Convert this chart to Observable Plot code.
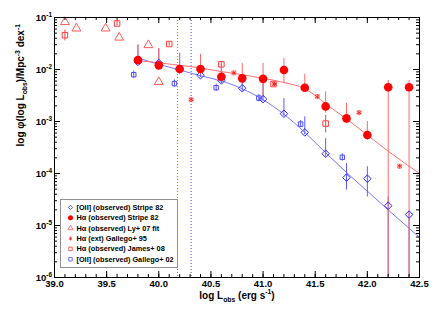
<!DOCTYPE html>
<html><head><meta charset="utf-8">
<script src="https://cdn.jsdelivr.net/npm/d3@7"></script>
<script src="https://cdn.jsdelivr.net/npm/@observablehq/plot@0.6"></script>
<style>
body{margin:0;background:#fff}
svg{font-family:"Liberation Sans",Arial,Helvetica,sans-serif;font-weight:bold}
</style>
</head><body><div id="chart"></div>
<script>
// ---- data (log10 phi values) ----
const binsS82 = [39.8,40.0,40.2,40.4,40.6,40.8,41.0,41.2,41.4,41.6,41.8,42.0,42.2,42.4];
const oiiS82 = [-1.854,-1.873,-2.00,-2.11,-2.21,-2.36,-2.57,-2.85,-3.21,-3.62,-4.08,-4.10,-4.62,-4.79];
const oiiS82Hi = [-1.53,-1.60,-1.69,-1.85,-1.95,-2.10,-2.20,-2.56,-2.91,-3.33,-3.81,-3.87,-4.45,-4.74];
const oiiS82Lo = [-1.90,-1.92,-2.05,-2.15,-2.27,-2.42,-2.62,-2.90,-3.26,-3.68,-4.32,-4.45,-6,-6];
const haS82 = [-1.82,-1.92,-1.99,-1.99,-2.14,-2.17,-2.18,-2.01,-2.35,-2.71,-2.94,-3.26,-2.34,-2.34];
const haS82Hi = [-1.53,-1.60,-1.69,-1.71,-1.90,-1.88,-1.88,-1.79,-2.09,-2.43,-2.65,-3.00,-2.21,-2.21];
const haS82Lo = [-1.86,-1.96,-2.03,-2.10,-2.20,-2.22,-2.55,-2.27,-2.42,-2.84,-3.04,-3.36,-6,-6];

const haFitX = [39.8,40.0,40.2,40.4,40.6,40.8,41.0,41.2,41.4,41.5,41.6,41.8,42.0,42.2,42.5];
const haFitY = [-1.83,-1.87,-1.92,-1.97,-2.04,-2.10,-2.17,-2.25,-2.37,-2.50,-2.66,-2.95,-3.26,-3.57,-4.0];
const oiiFitX = [39.8,40.0,40.2,40.4,40.6,40.8,41.0,41.2,41.4,41.6,41.8,42.0,42.2,42.5];
const oiiFitY = [-1.78,-1.90,-2.01,-2.12,-2.22,-2.37,-2.58,-2.86,-3.21,-3.60,-3.98,-4.34,-4.70,-5.23];

const lyX = [39.10,39.21,39.49,39.62,39.90,40.00];
const lyY = [-1.085,-1.21,-1.21,-1.385,-1.53,-2.24];

const jamesX = [39.10,39.60,40.10,40.60,41.10,41.60];
const jamesY = [-1.34,-1.115,-1.51,-1.90,-2.28,-3.04];
const jamesHi = [-1.24,-1.07,-1.47,-1.86,-2.24,-2.88];
const jamesLo = [-1.45,-1.16,-1.55,-1.94,-2.32,-3.22];

const gal95X = [40.31,40.72,41.11,41.52,41.92,42.31];
const gal95Y = [-2.58,-2.065,-2.28,-2.52,-2.83,-3.86];

const gal02X = [39.76,40.15,40.55,40.96,41.36,41.76];
const gal02Y = [-2.10,-2.27,-2.35,-2.55,-3.05,-3.69];
const gal02Hi = [-2.03,-2.20,-2.28,-2.48,-2.98,-3.62];
const gal02Lo = [-2.17,-2.34,-2.42,-2.62,-3.12,-3.76];

const limitHa = [40.18];
const limitOii = [40.31];

const xMajor = [39.0,39.5,40.0,40.5,41.0,41.5,42.0,42.5];
const yMajor = [-6,-5,-4,-3,-2,-1];

const legendLabels = ["[OII] (observed) Stripe 82","H\u03b1 (observed) Stripe 82","H\u03b1 (observed) Ly+ 07 fit","H\u03b1 (ext) Gallego+ 95","H\u03b1 (observed) James+ 08","[OII] (observed) Gallego+ 02"];

// ---- derived tables ----
const pow = v => Math.pow(10, v);
const s82 = binsS82.map((x,i)=>({x, oii:pow(oiiS82[i]), oiiHi:pow(oiiS82Hi[i]), oiiLo:pow(oiiS82Lo[i]), ha:pow(haS82[i]), haHi:pow(haS82Hi[i]), haLo:pow(haS82Lo[i])}));
const haFit = haFitX.map((x,i)=>({x, y:pow(haFitY[i])}));
const oiiFit = oiiFitX.map((x,i)=>({x, y:pow(oiiFitY[i])}));
const ly = lyX.map((x,i)=>({x, y:pow(lyY[i])}));
const james = jamesX.map((x,i)=>({x, y:pow(jamesY[i]), hi:pow(jamesHi[i]), lo:pow(jamesLo[i])}));
const gal95 = gal95X.map((x,i)=>({x, y:pow(gal95Y[i])}));
const gal02 = gal02X.map((x,i)=>({x, y:pow(gal02Y[i]), hi:pow(gal02Hi[i]), lo:pow(gal02Lo[i])}));
const xMinor = d3.range(390, 426, 1).map(v=>v/10);
const yMinor = [];
for (let k=-6;k<-1;k++) for (let m=2;m<10;m++) yMinor.push(m*Math.pow(10,k));
const yMaj = yMajor.map(pow);

const W = 436, H = 312, mL = 54, mR = 17, mT = 17, mB = 35;
const pw = W-mL-mR, ph = H-mT-mB;

const RED = "#ff0000", REDL = "#ff7070", BLUE = "#2b2bff", BLUEL = "#7878ff";

const chart = Plot.plot({
  width: W, height: H, marginLeft: mL, marginRight: mR, marginTop: mT, marginBottom: mB,
  x: {domain:[39,42.5], axis:null},
  y: {type:"log", domain:[1e-6,1e-1], axis:null},
  marks: [
    Plot.ruleX(limitHa, {x:d=>d, stroke:"#ff5050", strokeDasharray:"1,2"}),
    Plot.ruleX(limitOii, {x:d=>d, stroke:"#4848ff", strokeDasharray:"1,2"}),
    Plot.line(oiiFit, {x:"x", y:"y", stroke:BLUEL, strokeWidth:1, curve:"monotone-x", clip:true}),
    Plot.line(haFit, {x:"x", y:"y", stroke:REDL, strokeWidth:1, curve:"monotone-x", clip:true}),
    Plot.ruleX(s82, {x:"x", y1:"oiiLo", y2:"oiiHi", stroke:"#5a5aff", strokeWidth:1, clip:true}),
    Plot.ruleX(s82, {x:"x", y1:"haLo", y2:"haHi", stroke:"#ff6a6a", strokeWidth:1, clip:true}),
    Plot.ruleX(james, {x:"x", y1:"lo", y2:"hi", stroke:"#ff4040"}),
    Plot.ruleX(gal02, {x:"x", y1:"lo", y2:"hi", stroke:"#5a5aff"}),
    Plot.dot(ly, {x:"x", y:"y", symbol:"triangle", r:3.3, stroke:"#ff5a5a", fill:"none", strokeWidth:1}),
    Plot.dot(james, {x:"x", y:"y", symbol:"square", r:3.1, stroke:"#ff3a3a", fill:"none", strokeWidth:1}),
    Plot.dot(gal02, {x:"x", y:"y", symbol:"square", r:2.5, stroke:"#4a4aff", fill:"none", strokeWidth:1}),
    Plot.dot(gal95, {x:"x", y:"y", symbol:"square", r:2.3, stroke:"#ff8a8a", fill:"none", strokeWidth:0.8}),
    Plot.dot(gal95, {x:"x", y:"y", symbol:"asterisk", r:2.2, stroke:"#ff2020", strokeWidth:1}),
    Plot.dot(s82, {x:"x", y:"oii", symbol:"diamond2", r:3.4, stroke:BLUE, fill:"none", strokeWidth:1}),
    Plot.dot(s82, {x:"x", y:"ha", r:4.3, fill:RED, stroke:"none"}),
    // ticks
    Plot.tickX(xMinor, {x:d=>d, insetTop:ph-3, stroke:"black"}),
    Plot.tickX(xMinor, {x:d=>d, insetBottom:ph-3, stroke:"black"}),
    Plot.tickX(xMajor, {x:d=>d, insetTop:ph-6, stroke:"black"}),
    Plot.tickX(xMajor, {x:d=>d, insetBottom:ph-6, stroke:"black"}),
    Plot.tickY(yMinor, {y:d=>d, insetRight:pw-3, stroke:"black"}),
    Plot.tickY(yMinor, {y:d=>d, insetLeft:pw-3, stroke:"black"}),
    Plot.tickY(yMaj, {y:d=>d, insetRight:pw-6, stroke:"black"}),
    Plot.tickY(yMaj, {y:d=>d, insetLeft:pw-6, stroke:"black"}),
    Plot.frame({stroke:"black", strokeWidth:1}),
    // tick labels
    Plot.text(xMajor, {x:d=>d, frameAnchor:"bottom", dy:9.5, text:d=>d.toFixed(1), fontSize:9.5, fontWeight:"bold", fill:"black"}),
    Plot.text(yMaj, {y:d=>d, frameAnchor:"left", dx:-2.5, textAnchor:"end", text:d=>"10^{-"+Math.round(-Math.log10(d))+"}", fontSize:9.5, fontWeight:"bold", fill:"black"}),
    // axis titles
    Plot.text(["log L_{obs} (erg s^{-1})"], {frameAnchor:"bottom", dy:21, text:d=>d, fontSize:10, fontWeight:"bold", fill:"black"}),
    Plot.text(["log \u03c6(log L_{obs})/Mpc^{-3} dex^{-1}"], {frameAnchor:"left", dx:-34, dy:-1, rotate:-90, text:d=>d, fontSize:10, fontWeight:"bold", fill:"black"})
  ]
});
document.getElementById("chart").appendChild(chart);

function richify(el, fs){
  const s = el.textContent;
  const parts = s.split(/(\^\{[^}]*\}|_\{[^}]*\})/).filter(p=>p.length);
  el.textContent = "";
  let shift = 0;
  for (const p of parts){
    const ts = document.createElementNS("http://www.w3.org/2000/svg","tspan");
    let target = 0, txt = p, size = null;
    if (p.startsWith("^{")) { target = -0.42*fs; txt = p.slice(2,-1); size = 0.68*fs; }
    else if (p.startsWith("_{")) { target = 0.32*fs; txt = p.slice(2,-1); size = 0.68*fs; }
    ts.setAttribute("dy", target - shift); shift = target;
    if (size) ts.setAttribute("font-size", size);
    ts.textContent = txt;
    el.appendChild(ts);
  }
}
chart.querySelectorAll("text").forEach(t=>{
  if (!/[\^_]\{/.test(t.textContent)) return;
  let n = t, fs = null;
  while (n && n !== chart && fs == null) {
    const a = n.getAttribute && n.getAttribute("font-size");
    if (a) fs = parseFloat(a);
    n = n.parentNode;
  }
  richify(t, fs || 10);
});

// ---- legend ----
const svg = d3.select(chart);
const lg = svg.append("g").attr("transform","translate(60.5,199.5)");
lg.append("rect").attr("width",117).attr("height",68).attr("fill","white").attr("stroke","#909090");
const syms = [
  {t:d3.symbolDiamond2, s:12, stroke:BLUE, fill:"none"},
  {t:d3.symbolCircle, s:20, stroke:"none", fill:RED},
  {t:d3.symbolTriangle, s:12, stroke:"#ff5a5a", fill:"none"},
  {t:d3.symbolAsterisk, s:10, stroke:"#ff2020", fill:"none"},
  {t:d3.symbolSquare, s:12, stroke:"#ff3a3a", fill:"none"},
  {t:d3.symbolSquare, s:12, stroke:"#4a4aff", fill:"none"}
];
legendLabels.forEach((lab,i)=>{
  const y = 8 + i*10.35;
  const sy = syms[i];
  lg.append("path").attr("d", d3.symbol(sy.t, sy.s)()).attr("transform",`translate(10,${y})`)
    .attr("fill", sy.fill).attr("stroke", sy.stroke).attr("stroke-width",0.8);
  lg.append("text").attr("x",16).attr("y",y).attr("dy","0.35em").attr("text-anchor","start")
    .attr("font-size",7.3).attr("font-weight","bold").attr("fill","black").text(lab);
});
</script></body></html>
